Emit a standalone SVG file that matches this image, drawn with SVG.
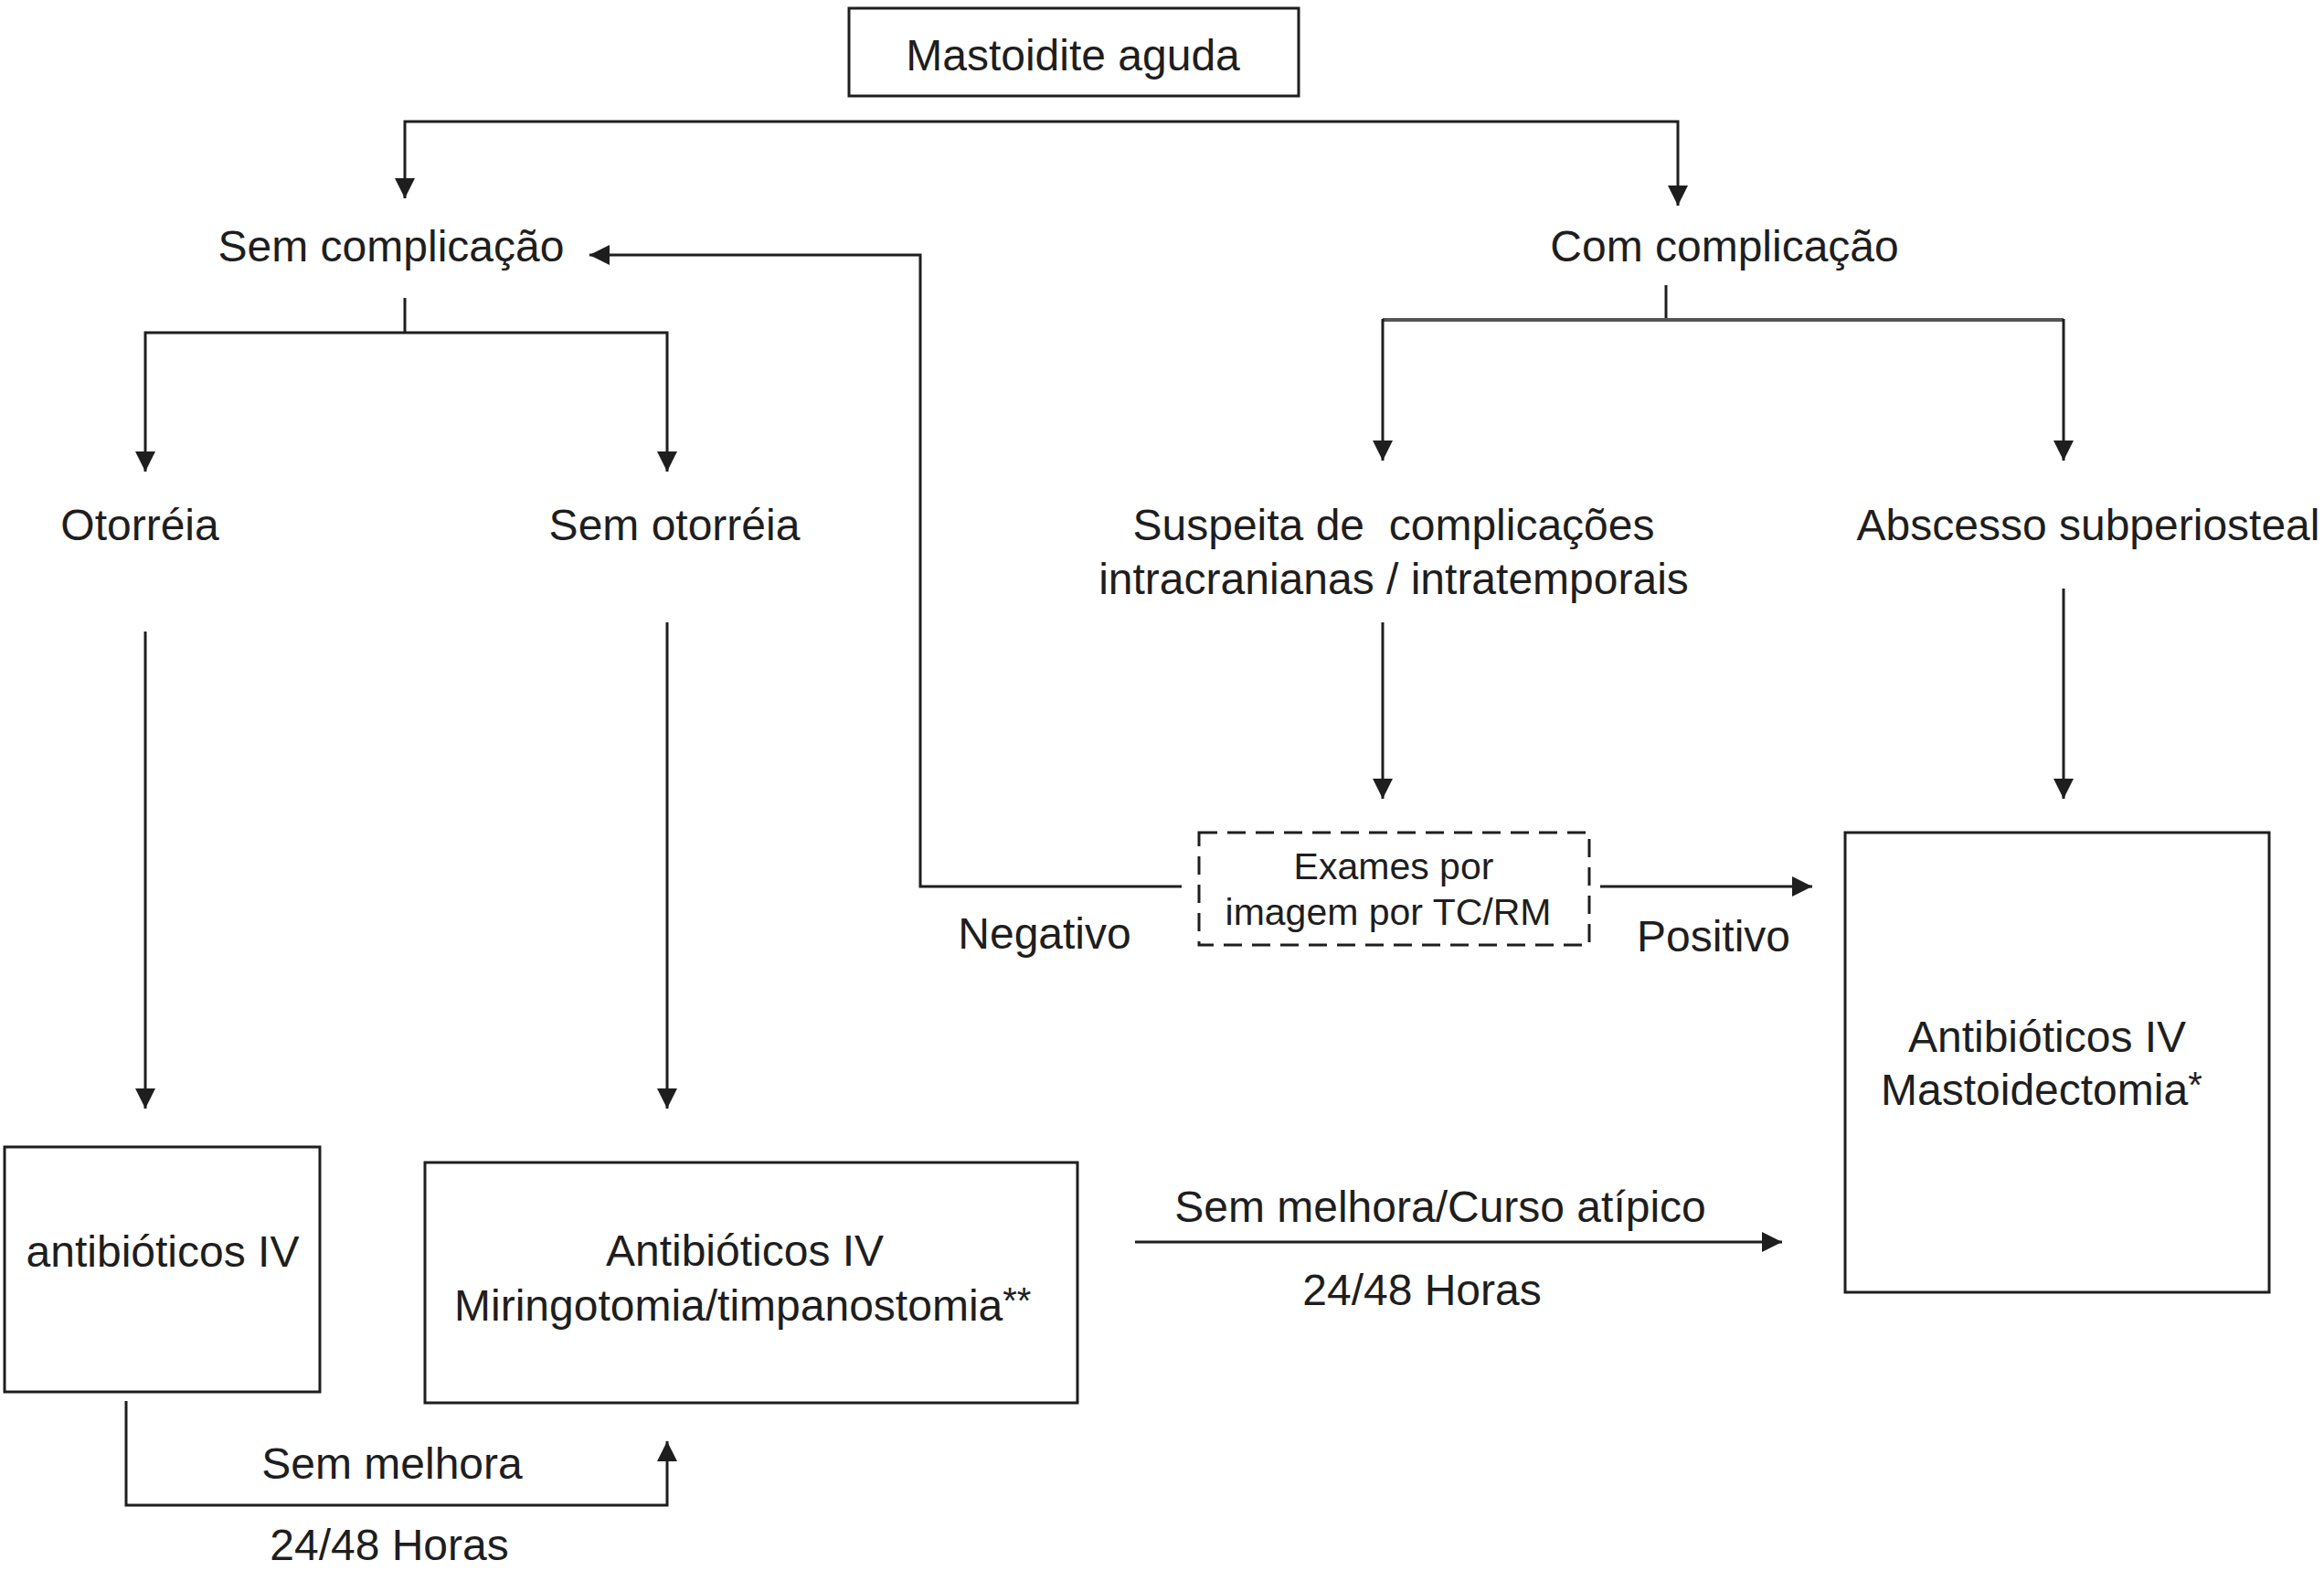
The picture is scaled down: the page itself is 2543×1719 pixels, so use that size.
<svg xmlns="http://www.w3.org/2000/svg" width="2543" height="1719" viewBox="0 0 2543 1719">
<defs>
<marker id="arr" markerUnits="userSpaceOnUse" markerWidth="22" markerHeight="22" viewBox="0 0 20 20" refX="20" refY="10" orient="auto">
<path d="M0,0 L20,10 L0,20 z" fill="#1e1e1e"/>
</marker>
<style>
text{font-family:"Liberation Sans",Arial,sans-serif;font-size:48px;fill:#1e1e1e;text-anchor:middle}
.sm{font-size:41px}
.st{text-anchor:start}
.box{fill:#fff;stroke:#1e1e1e;stroke-width:3}
.dash{fill:#fff;stroke:#1e1e1e;stroke-width:3;stroke-dasharray:20 11}
.ln{fill:none;stroke:#1e1e1e;stroke-width:3}
.ar{fill:none;stroke:#1e1e1e;stroke-width:3;marker-end:url(#arr)}
.grey{fill:none;stroke:#555;stroke-width:4}
.sup{font-size:40px}
</style>
</defs>
<rect width="2543" height="1719" fill="#fff"/>
<g id="connectors">
<path class="ar" d="M1140,133 L443,133 L443,217"/>
<path class="ar" d="M1140,133 L1836,133 L1836,225"/>
<path class="ar" d="M1293,970 L1007,970 L1007,279 L645,279"/>
<path class="ln" d="M443,326 L443,364"/>
<path class="ar" d="M443,364 L159,364 L159,516"/>
<path class="ar" d="M443,364 L730,364 L730,516"/>
<path class="ln" d="M1823,312 L1823,350"/>
<path class="grey" d="M1513,350 L2258,350"/>
<path class="ar" d="M1513,349 L1513,504"/>
<path class="ar" d="M2258,349 L2258,504"/>
<path class="ar" d="M159,691 L159,1213"/>
<path class="ar" d="M730,681 L730,1213"/>
<path class="ar" d="M1513,681 L1513,874"/>
<path class="ar" d="M2258,644 L2258,874"/>
<path class="ar" d="M1751,970 L1983,970"/>
<path class="ar" d="M1242,1359 L1950,1359"/>
<path class="ar" d="M138,1533 L138,1647 L730,1647 L730,1577"/>
</g>
<g id="mastoidite">
<rect class="box" x="929" y="9" width="492" height="96"/>
<text x="1174" y="77">Mastoidite aguda</text>
</g>
<g id="sem-complicacao"><text x="428" y="286">Sem complicação</text></g>
<g id="com-complicacao"><text x="1887" y="286">Com complicação</text></g>
<g id="otorreia"><text x="153" y="591">Otorréia</text></g>
<g id="sem-otorreia"><text x="738" y="591">Sem otorréia</text></g>
<g id="suspeita">
<text x="1525" y="591" style="white-space:pre" xml:space="preserve">Suspeita de  complicações</text>
<text x="1525" y="650">intracranianas / intratemporais</text>
</g>
<g id="abscesso"><text x="2285" y="591">Abscesso subperiosteal</text></g>
<g id="exames">
<rect class="dash" x="1312" y="911" width="427" height="123"/>
<text class="sm" x="1525" y="962">Exames por</text>
<text class="sm" x="1519" y="1012">imagem por TC/RM</text>
</g>
<g id="negativo"><text x="1143" y="1038">Negativo</text></g>
<g id="positivo"><text x="1875" y="1041">Positivo</text></g>
<g id="mastoidectomia">
<rect class="box" x="2019" y="911" width="464" height="503"/>
<text x="2240" y="1151">Antibióticos IV</text>
<text class="st" x="2058" y="1209">Mastoidectomia<tspan class="sup" dy="-8">*</tspan></text>
</g>
<g id="antibioticos-left">
<rect class="box" x="5" y="1255" width="345" height="268"/>
<text x="178" y="1386">antibióticos IV</text>
</g>
<g id="miringotomia">
<rect class="box" x="465" y="1272" width="714" height="263"/>
<text x="815" y="1385">Antibióticos IV</text>
<text class="st" x="497" y="1445">Miringotomia/timpanostomia<tspan class="sup" dy="-8">**</tspan></text>
</g>
<g id="labels">
<text x="1576" y="1337">Sem melhora/Curso atípico</text>
<text x="1556" y="1428">24/48 Horas</text>
<text x="429" y="1618">Sem melhora</text>
<text x="426" y="1707">24/48 Horas</text>
</g>
</svg>
